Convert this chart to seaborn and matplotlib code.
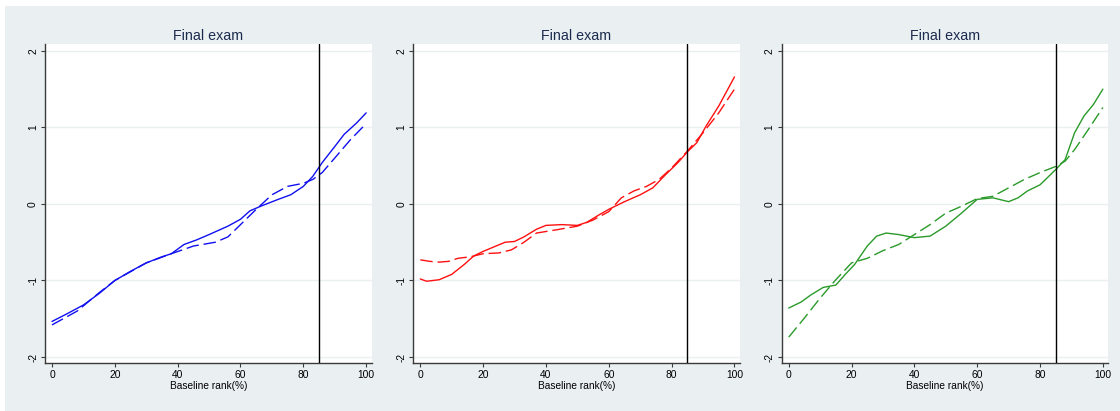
import matplotlib
matplotlib.use("Agg")
import matplotlib.pyplot as plt
from matplotlib.patches import Rectangle
import numpy as np
import pandas as pd
import seaborn as sns

sns.set_theme(style="white")
plt.rcParams["font.family"] = ["Liberation Sans", "DejaVu Sans"]

# Panel 1 (blue)
blue_solid_x = [0, 5, 10, 15, 20, 25, 30, 35, 38, 40, 42, 46, 50, 56, 60, 63, 67, 72, 76, 80, 83, 86,
                90, 93, 97, 100]
blue_solid_y = [-1.535, -1.43, -1.32, -1.17, -1.00, -0.88, -0.77, -0.69, -0.65, -0.59, -0.53, -0.47,
                -0.40, -0.29, -0.20, -0.09, -0.02, 0.06, 0.12, 0.23, 0.36, 0.54, 0.75, 0.91, 1.06,
                1.19]
blue_dash_x = [0, 8, 15, 20, 30, 38, 45, 52, 56, 60, 65, 70, 75, 80, 83, 86, 90, 95, 100]
blue_dash_y = [-1.58, -1.40, -1.16, -1.00, -0.77, -0.65, -0.55, -0.50, -0.43, -0.27, -0.07, 0.12,
               0.23, 0.27, 0.32, 0.41, 0.60, 0.84, 1.05]

# Panel 2 (red)
red_solid_x = [0, 2, 6, 10, 14, 17, 20, 27, 30, 33, 37, 40, 45, 50, 53, 57, 60, 65, 70, 74, 78, 82,
               85, 88, 91, 95, 100]
red_solid_y = [-0.98, -1.01, -0.99, -0.92, -0.79, -0.68, -0.62, -0.50, -0.49, -0.43, -0.33, -0.28,
               -0.27, -0.28, -0.24, -0.14, -0.07, 0.03, 0.12, 0.21, 0.38, 0.54, 0.68, 0.80, 1.02,
               1.28, 1.66]
red_dash_x = [0, 3, 6, 9, 12, 16, 20, 25, 29, 33, 37, 43, 50, 55, 60, 64, 68, 72, 76, 80, 85, 90, 95, 100]
red_dash_y = [-0.73, -0.75, -0.76, -0.75, -0.71, -0.69, -0.65, -0.64, -0.60, -0.50, -0.38, -0.34,
              -0.29, -0.21, -0.10, 0.08, 0.17, 0.23, 0.32, 0.47, 0.69, 0.93, 1.19, 1.50]

# Panel 3 (green)
green_solid_x = [0, 4, 7, 11, 15, 18, 21, 25, 28, 31, 35, 40, 45, 50, 55, 60, 65, 70, 73, 76, 80,
                 85, 88, 91, 94, 97, 100]
green_solid_y = [-1.36, -1.28, -1.19, -1.09, -1.06, -0.92, -0.79, -0.55, -0.42, -0.38, -0.40, -0.44,
                 -0.42, -0.29, -0.12, 0.06, 0.08, 0.03, 0.08, 0.17, 0.25, 0.45, 0.58, 0.93, 1.15,
                 1.30, 1.50]
green_dash_x = [0, 5, 10, 15, 20, 25, 30, 35, 40, 45, 50, 55, 60, 65, 70, 75, 80, 85, 88, 91, 95, 100]
green_dash_y = [-1.74, -1.49, -1.23, -0.99, -0.77, -0.71, -0.61, -0.53, -0.40, -0.27, -0.12, -0.03,
                0.07, 0.10, 0.21, 0.32, 0.41, 0.49, 0.56, 0.71, 0.95, 1.26]

panel_titles = ["Final exam", "Final exam", "Final exam"]
panel_colors = ["#1010f0", "#ff1010", "#2a9a2a"]
cutoff = 85
x_ticks = [0, 20, 40, 60, 80, 100]
y_ticks = [-2, -1, 0, 1, 2]

panels = [
    (blue_solid_x, blue_solid_y, blue_dash_x, blue_dash_y),
    (red_solid_x, red_solid_y, red_dash_x, red_dash_y),
    (green_solid_x, green_solid_y, green_dash_x, green_dash_y),
]

W, H = 1120, 411
fig = plt.figure(figsize=(W / 100, H / 100), dpi=100, facecolor="white")
fig.patches.append(Rectangle((5 / W, 0), 1 - 5 / W, (H - 6) / H, transform=fig.transFigure,
                             facecolor="#eaf0f2", edgecolor="none", zorder=-10))

ax_lefts = [45, 413.3, 781.7]
ax_w = 326.5
ax_top, ax_bottom = 44, 363
bg = "#eaf0f2"
spine_col = "#3a3a3a"

for i, (sx, sy, dx, dy) in enumerate(panels):
    ax = fig.add_axes([ax_lefts[i] / W, 1 - ax_bottom / H, ax_w / W, (ax_bottom - ax_top) / H])
    ax.set_facecolor("white")
    df = pd.concat([
        pd.DataFrame({"rank": sx, "value": sy, "kind": "solid"}),
        pd.DataFrame({"rank": dx, "value": dy, "kind": "dashed"}),
    ])
    sns.lineplot(data=df, x="rank", y="value", style="kind",
                 dashes={"solid": "", "dashed": (9, 3.5)},
                 color=panel_colors[i], linewidth=1.0, ax=ax, legend=False,
                 estimator=None, sort=True)
    ax.axvline(cutoff, color="black", linewidth=1.0, zorder=3)
    for yv in y_ticks:
        ax.axhline(yv, color=bg, linewidth=1.0, zorder=0)
    ax.set_xlim(-2.23, 101.7)
    ax.set_ylim(-2.078, 2.09)
    ax.set_xticks(x_ticks)
    ax.set_yticks(y_ticks)
    ax.set_yticklabels([str(v) for v in y_ticks], rotation=90, va="center")
    ax.tick_params(axis="both", which="major", length=3.0, width=0.8, color=spine_col,
                   labelsize=7.4, pad=2, labelcolor="black", left=True, bottom=True)
    ax.set_xlabel("Baseline rank(%)", fontsize=7.3, labelpad=1.0, color="black")
    ax.set_ylabel("")
    ax.set_title(panel_titles[i], fontsize=10.3, color="#1c2a4e", pad=3)
    for side in ["top", "right"]:
        ax.spines[side].set_visible(False)
    for side in ["left", "bottom"]:
        ax.spines[side].set_color(spine_col)
        ax.spines[side].set_linewidth(1.0)

fig.savefig("out.png", dpi=100, facecolor=fig.get_facecolor())
